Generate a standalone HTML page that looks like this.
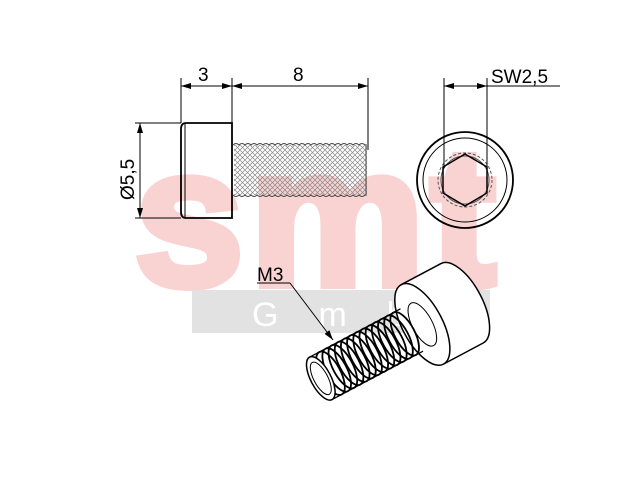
<!DOCTYPE html>
<html><head><meta charset="utf-8"><style>html,body{margin:0;padding:0;background:#fff}svg{display:block}</style></head>
<body>
<svg width="640" height="480" viewBox="0 0 640 480" xmlns="http://www.w3.org/2000/svg" font-family="Liberation Sans, sans-serif">
<defs>
<marker id="a" viewBox="0 0 10 6" refX="10" refY="3" markerWidth="11" markerHeight="6" orient="auto-start-reverse" markerUnits="userSpaceOnUse"><path d="M0,0L10,3L0,6z" fill="#000"/></marker>
<pattern id="th" width="5" height="5" patternUnits="userSpaceOnUse"><path d="M0,0L5,5M5,0L0,5" stroke="#888" stroke-width="0.7"/></pattern>
</defs>
<text x="134" y="285" font-size="198" font-weight="bold" fill="#f9d2d2" stroke="#f9d2d2" stroke-width="8" textLength="362" lengthAdjust="spacing">smt</text>
<rect x="192" y="290" width="298" height="43" fill="#e2e2e2"/>
<text x="252" y="326" font-size="34" fill="#fff" letter-spacing="40">Gmb</text>

<g stroke="#000" fill="none" stroke-width="1">
<line x1="181" y1="78" x2="181" y2="123"/>
<line x1="232" y1="78" x2="232" y2="145"/>
<line x1="368" y1="78" x2="368" y2="150"/>
<line x1="181" y1="86" x2="232" y2="86" marker-start="url(#a)" marker-end="url(#a)"/>
<line x1="232" y1="86" x2="368" y2="86" marker-start="url(#a)" marker-end="url(#a)"/>
<line x1="135" y1="123" x2="181" y2="123"/>
<line x1="135" y1="218" x2="181" y2="218"/>
<line x1="140" y1="123" x2="140" y2="218" marker-start="url(#a)" marker-end="url(#a)"/>
<path d="M186,123H232V218H186Q181,218 181,212V129Q181,123 186,123Z" stroke-width="1.8"/>
<line x1="185" y1="124" x2="185" y2="217"/>
<rect x="234" y="145" width="133" height="50" fill="url(#th)" stroke="none"/>
<path d="M233,145 q3,-3 6,0 q3,-3 6,0 q3,-3 6,0 q3,-3 6,0 q3,-3 6,0 q3,-3 6,0 q3,-3 6,0 q3,-3 6,0 q3,-3 6,0 q3,-3 6,0 q3,-3 6,0 q3,-3 6,0 q3,-3 6,0 q3,-3 6,0 q3,-3 6,0 q3,-3 6,0 q3,-3 6,0 q3,-3 6,0 q3,-3 6,0 q3,-3 6,0 q3,-3 6,0 q3,-3 6,0" stroke="#444"/>
<path d="M233,195 q3,3 6,0 q3,3 6,0 q3,3 6,0 q3,3 6,0 q3,3 6,0 q3,3 6,0 q3,3 6,0 q3,3 6,0 q3,3 6,0 q3,3 6,0 q3,3 6,0 q3,3 6,0 q3,3 6,0 q3,3 6,0 q3,3 6,0 q3,3 6,0 q3,3 6,0 q3,3 6,0 q3,3 6,0 q3,3 6,0 q3,3 6,0 q3,3 6,0" stroke="#444"/>
<line x1="366" y1="144" x2="366" y2="196" stroke="#444"/>
<circle cx="465" cy="180" r="48" stroke-width="1.8"/>
<circle cx="465" cy="180" r="42"/>
<circle cx="465" cy="180" r="27" stroke-dasharray="3,2" stroke="#555"/>
<circle cx="465" cy="180" r="24" stroke="#555"/>
<polygon points="465,154 487,167 487,193 465,206 443,193 443,167" stroke-width="1.5"/>
<line x1="444" y1="78" x2="444" y2="168"/>
<line x1="487" y1="78" x2="487" y2="168"/>
<line x1="444" y1="86" x2="487" y2="86" marker-start="url(#a)" marker-end="url(#a)"/>
<line x1="487" y1="86" x2="560" y2="86"/>
<line x1="257" y1="283" x2="290" y2="283"/>
<line x1="290" y1="283" x2="333" y2="340" marker-end="url(#a)"/>
<g transform="translate(440,315) rotate(-28)">
<path d="M-20,-45 L25,-45 A20,45 0 0 1 25,45 L-20,45" stroke-width="1.5" fill="#fff"/>
<ellipse cx="-20" cy="0" rx="20" ry="45" fill="#fff" stroke-width="1.5"/>
<ellipse cx="-20" cy="0" rx="10" ry="24"/>
<path d="M-32,-24 L-135,-24 M-32,24 L-135,24" stroke-width="1.2"/>
<g stroke-width="1.8">
<ellipse cx="-40" cy="0" rx="10" ry="24"/><ellipse cx="-47" cy="0" rx="10" ry="24"/><ellipse cx="-54" cy="0" rx="10" ry="24"/><ellipse cx="-61" cy="0" rx="10" ry="24"/><ellipse cx="-68" cy="0" rx="10" ry="24"/><ellipse cx="-75" cy="0" rx="10" ry="24"/><ellipse cx="-82" cy="0" rx="10" ry="24"/><ellipse cx="-89" cy="0" rx="10" ry="24"/><ellipse cx="-96" cy="0" rx="10" ry="24"/><ellipse cx="-103" cy="0" rx="10" ry="24"/><ellipse cx="-110" cy="0" rx="10" ry="24"/><ellipse cx="-117" cy="0" rx="10" ry="24"/><ellipse cx="-124" cy="0" rx="10" ry="24"/>
</g>
<ellipse cx="-135" cy="0" rx="10" ry="24" fill="#fff" stroke-width="1.5"/>
<ellipse cx="-135" cy="0" rx="7" ry="18"/>
</g>
</g>
<g font-size="19" fill="#000">
<text x="198" y="81">3</text>
<text x="293" y="81">8</text>
<text x="491" y="83">SW2,5</text>
<text x="257" y="281">M3</text>
<text transform="translate(134,200) rotate(-90)">Ø5,5</text>
</g>
</svg>
</body></html>
